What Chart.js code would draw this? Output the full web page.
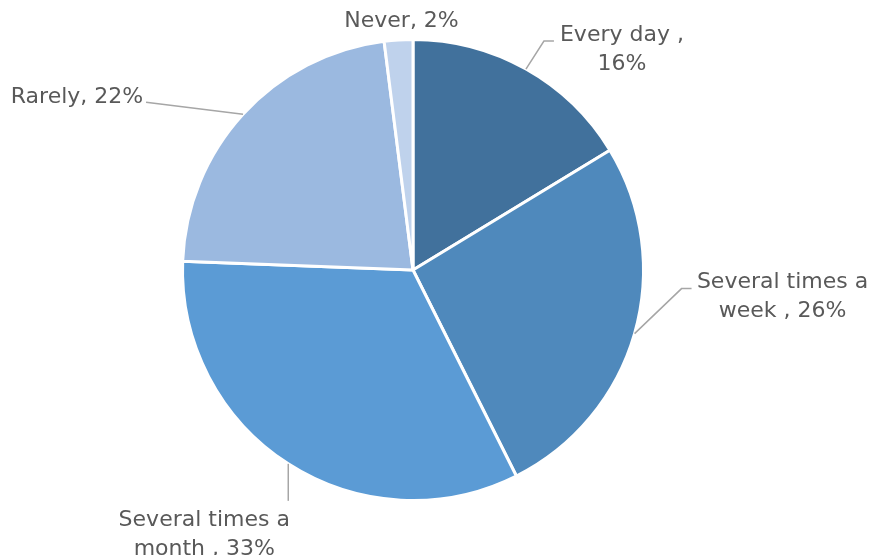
<!DOCTYPE html>
<html>
<head>
<meta charset="utf-8">
<script src="https://cdn.jsdelivr.net/npm/chart.js@4"></script>
<style>
  html, body { margin: 0; padding: 0; background: #fff; }
  #wrap { width: 870px; height: 555px; }
</style>
</head>
<body>
<div id="wrap"><canvas id="pieChart" width="870" height="555"></canvas></div>
<script>
const categories = ['Every day ', 'Several times a week ', 'Several times a month ', 'Rarely', 'Never'];
const shares = [16.3, 26.3, 33.0, 22.4, 2.0];
const colors = ['#41719c', '#4f89bc', '#5b9bd5', '#9bb9e0', '#bfd2ec'];

// label layout relative to the outer edge point at each slice's mid angle
const labelLayout = [
    { dx: 96, dy: -34, wrap: 140, line: [[18, -28], [28, -28]] },
    { dx: 148, dy: -51, wrap: 190, line: [[47, -45], [57, -45]] },
    { dx: -84, dy: 56, wrap: 190, line: [[0, 37]] },
    { dx: -166, dy: -17, wrap: 300, line: [[-97, -12]] },
    { dx: 3, dy: -19, wrap: 300, line: null }
];

const FONT = '22px "DejaVu Sans"';

function wrapText(ctx, text, maxWidth) {
    const words = text.split(' ').filter(w => w.length);
    const lines = [];
    let cur = '';
    words.forEach(w => {
        const test = cur ? cur + ' ' + w : w;
        if (cur && ctx.measureText(test).width > maxWidth) {
            lines.push(cur);
            cur = w;
        } else {
            cur = test;
        }
    });
    if (cur) lines.push(cur);
    return lines;
}

const labelPlugin = {
    id: 'pieLabels',
    afterDraw(chart) {
        const ctx = chart.ctx;
        const meta = chart.getDatasetMeta(0);
        ctx.save();
        ctx.font = FONT;
        meta.data.forEach((arc, i) => {
            const p = arc.getProps(['x', 'y', 'startAngle', 'endAngle', 'outerRadius'], true);
            const mid = (p.startAngle + p.endAngle) / 2;
            const ex = p.x + Math.cos(mid) * p.outerRadius;
            const ey = p.y + Math.sin(mid) * p.outerRadius;
            const lay = labelLayout[i];

            if (lay.line) {
                ctx.strokeStyle = '#a6a6a6';
                ctx.lineWidth = 1.5;
                ctx.beginPath();
                ctx.moveTo(ex, ey);
                lay.line.forEach(pt => ctx.lineTo(ex + pt[0], ey + pt[1]));
                ctx.stroke();
            }

            const text = categories[i] + ', ' + Math.round(shares[i]) + '%';
            const lines = wrapText(ctx, text, lay.wrap);
            ctx.fillStyle = '#595959';
            ctx.textAlign = 'center';
            ctx.textBaseline = 'middle';
            lines.forEach((ln, k) => {
                ctx.fillText(ln, ex + lay.dx, ey + lay.dy + k * 29);
            });
        });
        ctx.restore();
    }
};

new Chart(document.getElementById('pieChart').getContext('2d'), {
    type: 'pie',
    data: {
        labels: categories,
        datasets: [{
            data: shares,
            backgroundColor: colors,
            borderColor: '#ffffff',
            borderWidth: 3,
            hoverOffset: 0
        }]
    },
    options: {
        responsive: false,
        animation: false,
        layout: {
            padding: { top: 38, bottom: 53, left: 181, right: 225 }
        },
        plugins: {
            legend: { display: false },
            tooltip: { enabled: false }
        }
    },
    plugins: [labelPlugin]
});
</script>
</body>
</html>
